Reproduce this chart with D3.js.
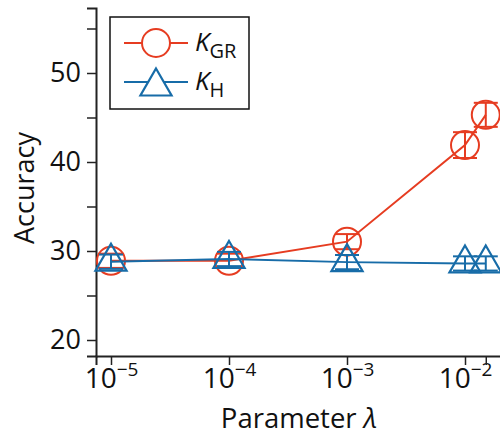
<!DOCTYPE html>
<html>
<head>
<meta charset="utf-8">
<script src="https://cdn.jsdelivr.net/npm/d3@7"></script>
<style>
  body { margin: 0; background: #fff; }
  text { font-family: "Open Sans", sans-serif; fill: #111; }
</style>
</head>
<body>
<div id="chart"></div>
<script>
// Dados
const lambdas = [1e-5, 1e-4, 1e-3, 1e-2, 1.5e-2];
const accGR = [28.9, 28.9, 31.05, 41.9, 45.3];
const errGR = [0.8, 0.8, 0.85, 1.45, 1.35];
const accH = [28.8, 29.1, 28.75, 28.6, 28.6];
const errH = [0.8, 0.8, 0.8, 0.8, 0.8];
const yTicks = [20, 25, 30, 35, 40, 45, 50, 55];
const xExponents = ["−5", "−4", "−3", "−2", ""];

const width = 500, height = 436;
const red = "#e63c21", blue = "#176ca8";

const svg = d3.select("#chart").append("svg")
    .attr("width", width)
    .attr("height", height);

// Escalas
const x = d3.scaleLog().domain([1e-5, 1e-2]).range([111, 465]);
x.domain([x.invert(96), x.invert(520)]).range([96, 520]);
const y = d3.scaleLinear().domain([20, 50]).range([340, 73]);
y.domain([y.invert(356), y.invert(8)]).range([356, 8]);

// Eixos
const xAxis = d3.axisBottom(x)
    .tickValues(lambdas)
    .tickSizeOuter(0)
    .tickSize(9)
    .tickFormat(() => "");

const gx = svg.append("g")
    .attr("transform", "translate(0,356)")
    .call(xAxis);
gx.select(".domain").attr("stroke-width", 2).attr("stroke", "#222");
gx.selectAll(".tick line").attr("stroke-width", 1.5).attr("stroke", "#222");
gx.selectAll(".tick text").remove();

gx.selectAll(".tick").each(function(d, i) {
    const sup = xExponents[i];
    if (!sup) return;
    const t = d3.select(this).append("text")
        .attr("y", 32)
        .attr("text-anchor", "middle")
        .style("font-size", "28px");
    t.append("tspan").text("10");
    t.append("tspan").attr("dy", -12).style("font-size", "19px").text(sup);
});

const yAxis = d3.axisLeft(y)
    .tickValues(yTicks)
    .tickSizeOuter(0)
    .tickSize(9)
    .tickPadding(6)
    .tickFormat(d => d % 10 === 0 ? d : "");

const gy = svg.append("g")
    .attr("transform", "translate(96,0)")
    .call(yAxis);
gy.select(".domain").attr("stroke-width", 2).attr("stroke", "#222");
gy.selectAll(".tick line").attr("stroke-width", 1.5).attr("stroke", "#222");
gy.selectAll(".tick text").style("font-size", "27px").attr("fill", "#111");

// Labels dos eixos
svg.append("text")
    .attr("transform", "translate(34,188) rotate(-90)")
    .attr("text-anchor", "middle")
    .style("font-size", "27px")
    .text("Accuracy");

const xl = svg.append("text")
    .attr("x", 299)
    .attr("y", 428)
    .attr("text-anchor", "middle")
    .style("font-size", "27.5px");
xl.append("tspan").text("Parameter ");
xl.append("tspan").style("font-style", "italic").text("λ");

// Séries
function triangle(cx, cy, r) {
    return `M${cx},${cy - r} L${cx + r * 0.866},${cy + r / 2} L${cx - r * 0.866},${cy + r / 2} Z`;
}

function drawSeries(vals, errs, color, marker) {
    const pts = lambdas.map((l, i) => ({ l, v: vals[i], e: errs[i] }));
    const g = svg.append("g");
    g.append("path")
        .datum(pts)
        .attr("fill", "none")
        .attr("stroke", color)
        .attr("stroke-width", 2)
        .attr("d", d3.line().x(d => x(d.l)).y(d => y(d.v)));

    // barras de erro
    const eb = g.selectAll(".eb").data(pts).enter().append("g");
    eb.append("line")
        .attr("x1", d => x(d.l)).attr("x2", d => x(d.l))
        .attr("y1", d => y(d.v - d.e)).attr("y2", d => y(d.v + d.e))
        .attr("stroke", color).attr("stroke-width", 2);
    [-1, 1].forEach(s => {
        eb.append("line")
            .attr("x1", d => x(d.l) - 12).attr("x2", d => x(d.l) + 12)
            .attr("y1", d => y(d.v + s * d.e)).attr("y2", d => y(d.v + s * d.e))
            .attr("stroke", color).attr("stroke-width", 2);
    });

    if (marker === "circle") {
        g.selectAll(".m").data(pts).enter().append("circle")
            .attr("cx", d => x(d.l)).attr("cy", d => y(d.v))
            .attr("r", 14)
            .attr("fill", "none")
            .attr("stroke", color).attr("stroke-width", 2);
    } else {
        g.selectAll(".m").data(pts).enter().append("path")
            .attr("d", d => triangle(x(d.l), y(d.v), 18))
            .attr("fill", "none")
            .attr("stroke", color).attr("stroke-width", 2.2);
    }
}

drawSeries(accGR, errGR, red, "circle");
drawSeries(accH, errH, blue, "triangle");

// Legenda
const lg = svg.append("g");
lg.append("rect")
    .attr("x", 110).attr("y", 17)
    .attr("width", 139).attr("height", 92)
    .attr("fill", "#fff")
    .attr("stroke", "#111").attr("stroke-width", 1.5);

const entries = [
    { name: "GR", color: red, marker: "circle", cy: 43 },
    { name: "H", color: blue, marker: "triangle", cy: 82 }
];
entries.forEach(e => {
    lg.append("line")
        .attr("x1", 124).attr("x2", 188)
        .attr("y1", e.cy).attr("y2", e.cy)
        .attr("stroke", e.color).attr("stroke-width", 2);
    if (e.marker === "circle") {
        lg.append("circle")
            .attr("cx", 156).attr("cy", e.cy).attr("r", 14)
            .attr("fill", "#fff")
            .attr("stroke", e.color).attr("stroke-width", 2);
    } else {
        lg.append("path")
            .attr("d", triangle(156, e.cy + 4.5, 18))
            .attr("fill", "#fff")
            .attr("stroke", e.color).attr("stroke-width", 2.2);
    }
    const t = lg.append("text")
        .attr("x", 195)
        .attr("y", e.cy + 8)
        .style("font-size", "26px");
    t.append("tspan").style("font-style", "italic").text("K");
    t.append("tspan").attr("dy", 7).style("font-size", "20px").text(e.name);
});
</script>
</body>
</html>
